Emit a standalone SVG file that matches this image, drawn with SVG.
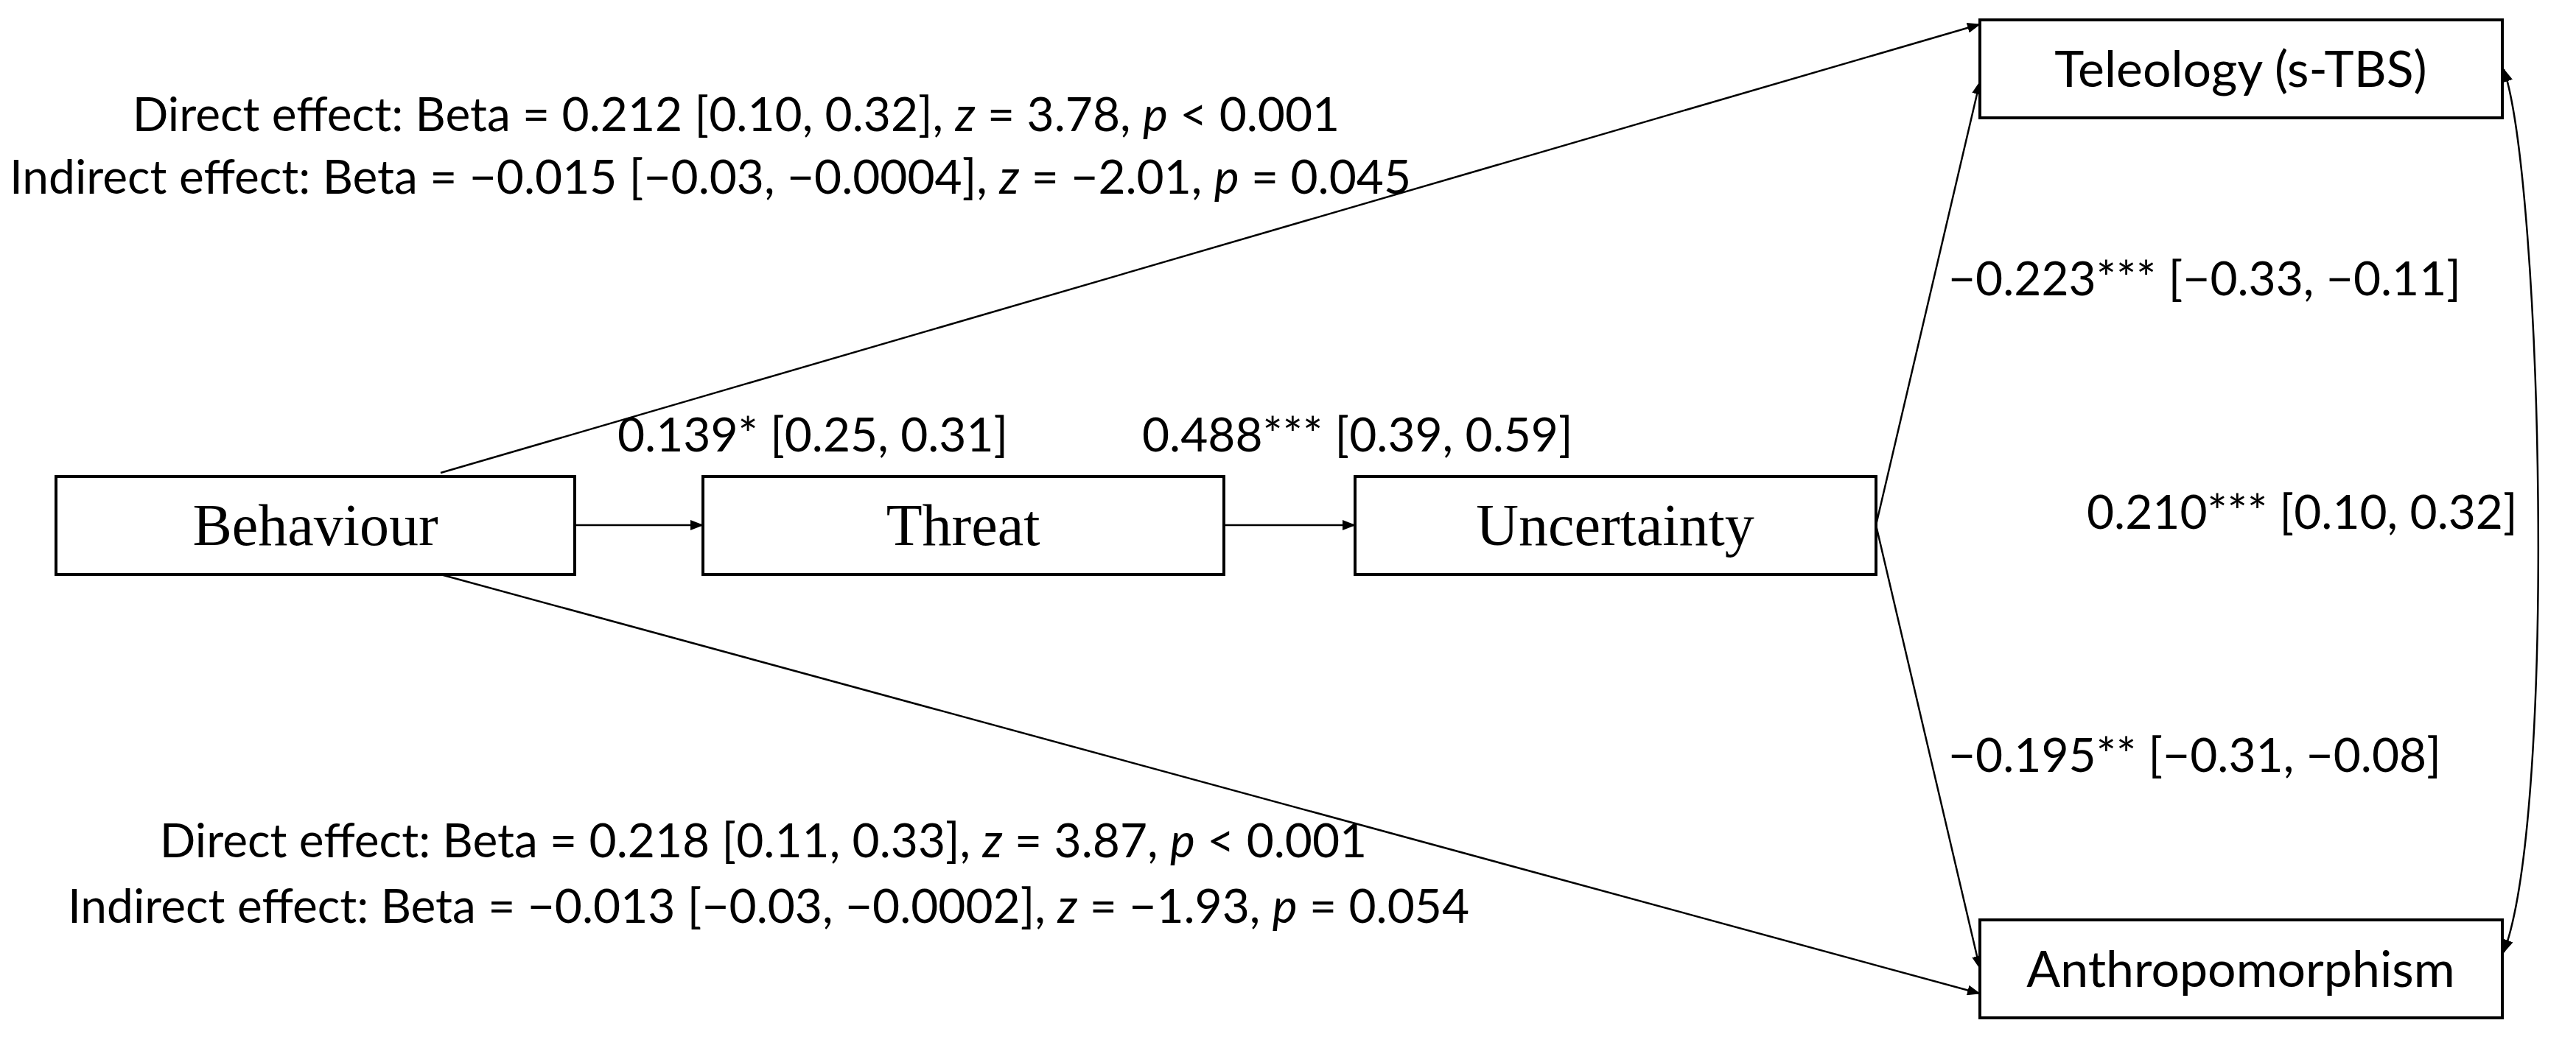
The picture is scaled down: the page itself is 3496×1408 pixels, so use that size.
<svg xmlns="http://www.w3.org/2000/svg" width="3496" height="1408" viewBox="0 0 3496 1408">
<style>
.box{fill:#fff;stroke:#000;stroke-width:4}
.ln{fill:none;stroke:#000;stroke-width:2.5}
.s{font-family:"Liberation Serif",serif;font-size:80px;text-anchor:middle}
.c{font-family:Lato,"Open Sans",sans-serif;font-size:68px;text-anchor:middle}
.t{font-family:Lato,"Open Sans",sans-serif;font-size:64px}
.m{text-anchor:middle}
</style>
<defs>
<marker id="ah2" markerWidth="18" markerHeight="14" refX="17" refY="7" orient="auto" markerUnits="userSpaceOnUse"><path d="M0,0L18,7L0,14z"/></marker>
<marker id="ahs" markerWidth="18" markerHeight="14" refX="17" refY="7" orient="auto-start-reverse" markerUnits="userSpaceOnUse"><path d="M0,0L18,7L0,14z"/></marker>
</defs>
<rect width="3496" height="1408" fill="#fff"/>
<g id="connectors">
<line class="ln" x1="598" y1="642" x2="2687" y2="33" marker-end="url(#ah2)"/>
<line class="ln" x1="598" y1="780" x2="2687" y2="1349" marker-end="url(#ah2)"/>
<line class="ln" x1="780" y1="713" x2="954" y2="713" marker-end="url(#ah2)"/>
<line class="ln" x1="1661" y1="713" x2="1839" y2="713" marker-end="url(#ah2)"/>
<line class="ln" x1="2546" y1="713" x2="2687" y2="111" marker-end="url(#ah2)"/>
<line class="ln" x1="2546" y1="713" x2="2687" y2="1315" marker-end="url(#ah2)"/>
<path class="ln" d="M3398,94 C3450,250 3470,1100 3398,1293" marker-start="url(#ahs)" marker-end="url(#ahs)"/>
</g>
<g id="behaviour"><rect class="box" x="76" y="647" width="704" height="133"/><text class="s" x="428" y="740">Behaviour</text></g>
<g id="threat"><rect class="box" x="954" y="647" width="707" height="133"/><text class="s" x="1307" y="740">Threat</text></g>
<g id="uncertainty"><rect class="box" x="1839" y="647" width="707" height="133"/><text class="s" x="2192" y="740">Uncertainty</text></g>
<g id="teleology"><rect class="box" x="2687" y="27" width="709" height="133"/><text class="c" x="3041" y="118">Teleology (s-TBS)</text></g>
<g id="anthropomorphism"><rect class="box" x="2687" y="1249" width="709" height="133"/><text class="c" x="3041" y="1340">Anthropomorphism</text></g>
<g id="labels" class="t">
<text class="m" x="999" y="178">Direct effect: Beta = 0.212 [0.10, 0.32], <tspan font-style="italic">z</tspan> = 3.78, <tspan font-style="italic">p</tspan> &lt; 0.001</text>
<text class="m" x="964" y="263">Indirect effect: Beta = −0.015 [−0.03, −0.0004], <tspan font-style="italic">z</tspan> = −2.01, <tspan font-style="italic">p</tspan> = 0.045</text>
<text x="838" y="613">0.139* [0.25, 0.31]</text>
<text x="1550" y="613">0.488*** [0.39, 0.59]</text>
<text x="2644" y="401">−0.223*** [−0.33, −0.11]</text>
<text x="2832" y="718">0.210*** [0.10, 0.32]</text>
<text x="2644" y="1048">−0.195** [−0.31, −0.08]</text>
<text class="m" x="1036" y="1164">Direct effect: Beta = 0.218 [0.11, 0.33], <tspan font-style="italic">z</tspan> = 3.87, <tspan font-style="italic">p</tspan> &lt; 0.001</text>
<text class="m" x="1043" y="1253">Indirect effect: Beta = −0.013 [−0.03, −0.0002], <tspan font-style="italic">z</tspan> = −1.93, <tspan font-style="italic">p</tspan> = 0.054</text>
</g>
</svg>
